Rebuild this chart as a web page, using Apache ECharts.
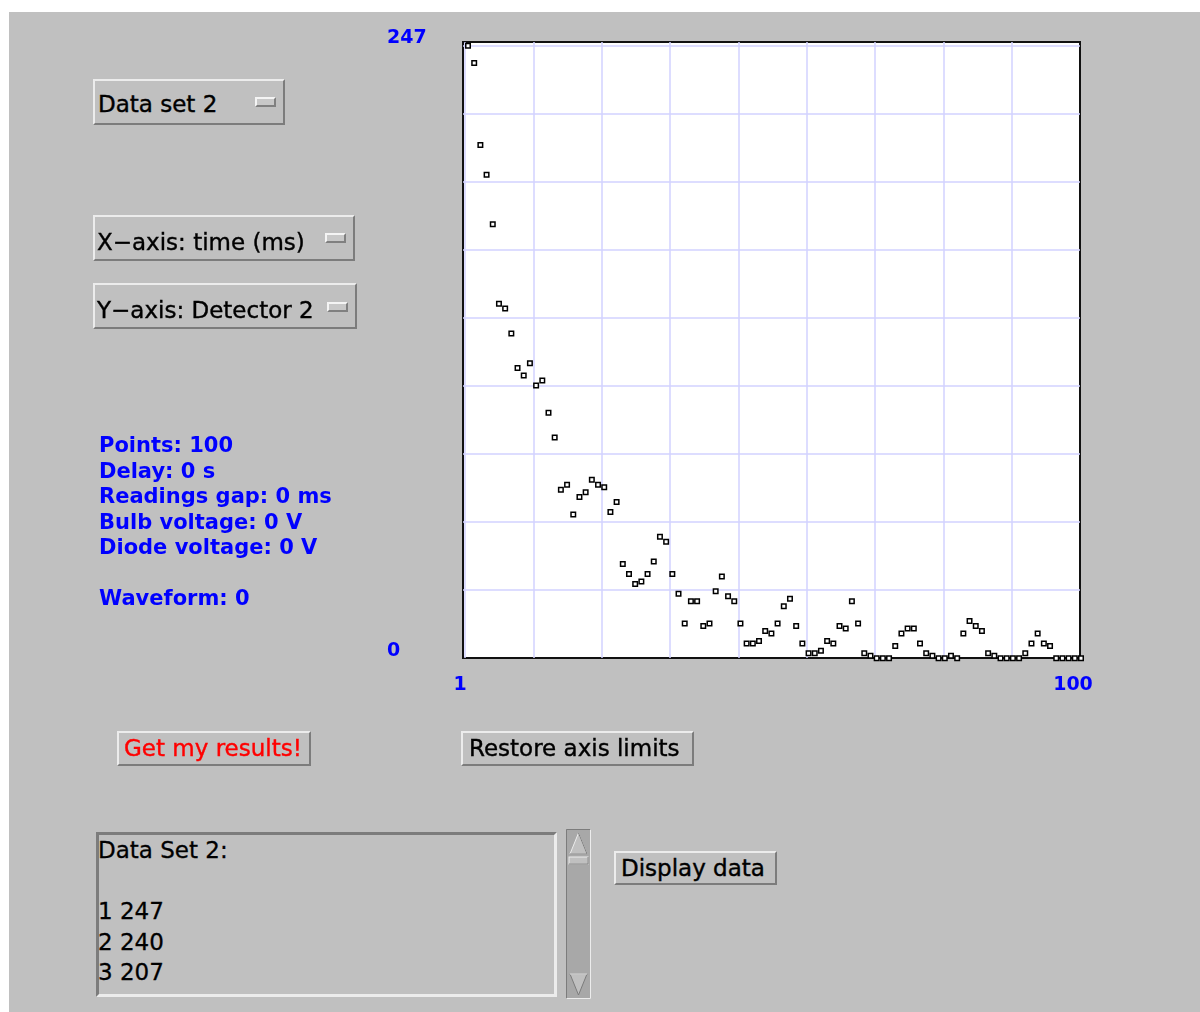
<!DOCTYPE html>
<html>
<head>
<meta charset="utf-8">
<title>Data set 2</title>
<script src="https://cdn.jsdelivr.net/npm/echarts@6.0.0/dist/echarts.min.js"></script>
<style>
body { margin:0; background:#fff; width:1200px; height:1012px; overflow:hidden; position:relative; font-family:"DejaVu Sans", sans-serif; }
#panel { position:absolute; left:9px; top:12px; width:1191px; height:1000px; background:#c0c0c0; }
#main { position:absolute; left:0; top:0; width:1200px; height:1012px; z-index:1; }
.raised { position:absolute; box-sizing:border-box; background:#c0c0c0; border:2px solid; border-color:#ececec #7c7c7c #7c7c7c #ececec; z-index:2; }
.sunken { position:absolute; box-sizing:border-box; background:#c0c0c0; border:3px solid; border-color:#7c7c7c #ececec #ececec #7c7c7c; z-index:2; }
.ind { position:absolute; box-sizing:border-box; width:21px; height:10px; background:#c8c8c8; border:2px solid; border-color:#f4f4f4 #808080 #808080 #f4f4f4; z-index:3; }
.txt { position:absolute; white-space:pre; color:#000; font-size:23px; line-height:23px; z-index:3; -webkit-text-stroke-width:0.4px; }
.info { position:absolute; left:99px; top:433px; white-space:pre; color:#0000ff; font-weight:bold; font-size:21px; line-height:25.5px; z-index:3; }
.area { position:absolute; left:98px; top:835px; white-space:pre; color:#000; font-size:23px; line-height:30.5px; z-index:3; -webkit-text-stroke-width:0.3px; }
#scroll { position:absolute; left:566px; top:829px; z-index:3; }
</style>
</head>
<body>
<div id="panel"></div>
<div id="main"></div>

<!-- drop down menus -->
<div class="raised" style="left:93px;top:79px;width:192px;height:46px"></div>
<div class="txt" style="left:98px;top:93px">Data set 2</div>
<div class="ind" style="left:255px;top:97px"></div>

<div class="raised" style="left:93px;top:215px;width:262px;height:46px"></div>
<div class="txt" style="left:97px;top:231px">X&#8722;axis: time (ms)</div>
<div class="ind" style="left:325px;top:233px"></div>

<div class="raised" style="left:93px;top:283px;width:264px;height:46px"></div>
<div class="txt" style="left:97px;top:299px">Y&#8722;axis: Detector 2</div>
<div class="ind" style="left:327px;top:302px"></div>

<!-- settings text -->
<div class="info">Points: 100
Delay: 0 s
Readings gap: 0 ms
Bulb voltage: 0 V
Diode voltage: 0 V

Waveform: 0</div>

<!-- buttons -->
<div class="raised" style="left:117px;top:731px;width:194px;height:35px"></div>
<div class="txt" style="left:124px;top:737px;color:#ff0000">Get my results!</div>

<div class="raised" style="left:461px;top:731px;width:233px;height:35px"></div>
<div class="txt" style="left:469px;top:737px">Restore axis limits</div>

<div class="raised" style="left:614px;top:851px;width:163px;height:34px"></div>
<div class="txt" style="left:621px;top:857px">Display data</div>

<!-- text area -->
<div class="sunken" style="left:96px;top:832px;width:461px;height:165px"></div>
<div class="area">Data Set 2:

1 247
2 240
3 207</div>

<svg id="scroll" width="25" height="170">
  <rect x="0" y="0" width="25" height="170" fill="#a8a8a8"/>
  <path d="M0.5 169.5 V0.5 H24.5" stroke="#7c7c7c" fill="none"/>
  <path d="M0.5 169.5 H24.5 V0.5" stroke="#ececec" fill="none"/>
  <path d="M4 25 L12.5 4 L21 25 Z" fill="#c0c0c0" stroke="#ececec"/>
  <path d="M4 25 L21 25 L12.5 4" fill="none" stroke="#7c7c7c"/>
  <rect x="3" y="28" width="19" height="7" fill="#c0c0c0" stroke="#ececec"/>
  <path d="M3 35 H22 V28" fill="none" stroke="#7c7c7c"/>
  <path d="M4 145 L12.5 166 L21 145 Z" fill="#c0c0c0" stroke="#7c7c7c"/>
  <path d="M4 145 L21 145" fill="none" stroke="#ececec"/>
</svg>

<script>
// time axis (ms)
var timeMs = [1, 2, 3, 4, 5, 6, 7, 8, 9, 10,
    11, 12, 13, 14, 15, 16, 17, 18, 19, 20,
    21, 22, 23, 24, 25, 26, 27, 28, 29, 30,
    31, 32, 33, 34, 35, 36, 37, 38, 39, 40,
    41, 42, 43, 44, 45, 46, 47, 48, 49, 50,
    51, 52, 53, 54, 55, 56, 57, 58, 59, 60,
    61, 62, 63, 64, 65, 66, 67, 68, 69, 70,
    71, 72, 73, 74, 75, 76, 77, 78, 79, 80,
    81, 82, 83, 84, 85, 86, 87, 88, 89, 90,
    91, 92, 93, 94, 95, 96, 97, 98, 99, 100];

// detector 2 readings
var detector2 = [247, 240, 207, 195, 175, 143, 141, 131, 117, 114,
    119, 110, 112, 99, 89, 68, 70, 58, 65, 67,
    72, 70, 69, 59, 63, 38, 34, 30, 31, 34,
    39, 49, 47, 34, 26, 14, 23, 23, 13, 14,
    27, 33, 25, 23, 14, 6, 6, 7, 11, 10,
    14, 21, 24, 13, 6, 2, 2, 3, 7, 6,
    13, 12, 23, 14, 2, 1, 0, 0, 0, 5,
    10, 12, 12, 6, 2, 1, 0, 0, 1, 0,
    10, 15, 13, 11, 2, 1, 0, 0, 0, 0,
    2, 6, 10, 6, 5, 0, 0, 0, 0, 0];

// the only tick labels shown
var xTickLabels = [1, 100];
var yTickLabels = [0, 247];

var gridDivisions = 9;

function drawChart(chartID) {
    var myChart = echarts.init(document.getElementById(chartID), null, {renderer: 'canvas'});

    var points = timeMs.map(function (t, i) {
        return [t, detector2[i]];
    });

    var blueLabel = {
        color: '#0000ff',
        fontFamily: 'DejaVu Sans',
        fontWeight: 'bold',
        fontSize: 19
    };
    var gridLine = {show: true, showMinLine: false, showMaxLine: false, lineStyle: {color: '#d2d2ff', width: 1.5}};

    myChart.setOption({
        animation: false,
        grid: [
            {  // frame with the grid lines
                left: 463, top: 42, width: 617, height: 616,
                show: true, backgroundColor: '#ffffff',
                borderColor: '#111111', borderWidth: 2
            },
            {  // data area
                left: 468, top: 45.7, width: 613, height: 612.6
            }
        ],
        xAxis: [
            {
                gridIndex: 0, type: 'value', inverse: true,
                min: 0, max: 617 / 68.33, interval: 1,
                axisLine: {show: false}, axisTick: {show: false}, axisLabel: {show: false},
                splitLine: gridLine
            },
            {
                gridIndex: 1, type: 'value', min: 1, max: 100,
                axisLine: {show: false}, axisTick: {show: false}, splitLine: {show: false},
                axisLabel: Object.assign({
                    customValues: xTickLabels,
                    margin: 17,
                    padding: [0, 16, 0, 0]
                }, blueLabel)
            }
        ],
        yAxis: [
            {
                gridIndex: 0, type: 'value',
                min: 0, max: 616 / 2.479, interval: 247 / gridDivisions,
                axisLine: {show: false}, axisTick: {show: false}, axisLabel: {show: false},
                splitLine: gridLine
            },
            {
                gridIndex: 1, type: 'value', min: 0, max: 247,
                axisLine: {show: false}, axisTick: {show: false}, splitLine: {show: false},
                axisLabel: Object.assign({
                    customValues: yTickLabels,
                    align: 'left',
                    verticalAlign: 'bottom',
                    margin: 81,
                    padding: [0, 0, -2, 0]
                }, blueLabel)
            }
        ],
        series: [{
            name: 'Detector 2',
            type: 'scatter',
            xAxisIndex: 1,
            yAxisIndex: 1,
            clip: false,
            symbol: 'rect',
            symbolSize: 4.5,
            itemStyle: {color: '#ffffff', borderColor: '#000000', borderWidth: 1.5, opacity: 1},
            data: points
        }]
    });
}

drawChart('main');
</script>
</body>
</html>
